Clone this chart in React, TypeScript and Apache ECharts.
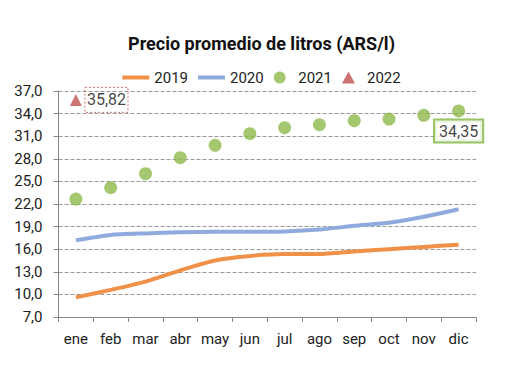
import React, { useEffect, useRef } from "react";
import * as echarts from "echarts";

const months = ["ene", "feb", "mar", "abr", "may", "jun", "jul", "ago", "sep", "oct", "nov", "dic"];
const s2019 = [9.6, 10.6, 11.7, 13.2, 14.5, 15.1, 15.35, 15.35, 15.7, 16.0, 16.3, 16.6];
const s2020 = [17.2, 17.9, 18.1, 18.25, 18.3, 18.3, 18.35, 18.6, 19.1, 19.5, 20.3, 21.3];
const s2021 = [22.66, 24.16, 26.02, 28.14, 29.79, 31.33, 32.13, 32.53, 33.06, 33.28, 33.77, 34.35];
const s2022 = [35.82];

const fmt2 = (v: number) => v.toFixed(2).replace(".", ",");
const lineIcon = "path://M0,0 L27,0 L27,4 L0,4 Z";
const triIcon = "path://M6,0 L12,11 L0,11 Z";

export default function App() {
  const ref = useRef<HTMLDivElement>(null);
  useEffect(() => {
    if (!ref.current) return;
    const chart = echarts.init(ref.current, null, { renderer: "svg" });
    const font = "Roboto";
    chart.setOption({
      animation: false,
      backgroundColor: "#ffffff",
      textStyle: { fontFamily: font },
      title: {
        text: "Precio promedio de litros (ARS/l)",
        left: "center",
        top: 29,
        textStyle: { fontFamily: font, fontSize: 18, fontWeight: "bold", color: "#111" },
      },
      legend: {
        top: 65,
        left: "center",
        itemGap: 10,
        itemWidth: 27,
        itemHeight: 12,
        textStyle: { fontFamily: font, fontSize: 15, color: "#222" },
        data: [
          { name: "2019", icon: lineIcon },
          { name: "2020", icon: lineIcon },
          { name: "2021", icon: "circle" },
          { name: "2022", icon: triIcon },
        ],
      },
      grid: { left: 58.5, right: 47, top: 91, bottom: 61, containLabel: false },
      xAxis: {
        type: "category",
        data: months,
        boundaryGap: true,
        axisLine: { lineStyle: { color: "#888", width: 1 } },
        axisTick: { show: true, length: 5, lineStyle: { color: "#888" } },
        axisLabel: { fontFamily: font, fontSize: 15, color: "#222", margin: 14, interval: 0 },
      },
      yAxis: {
        type: "value",
        min: 7,
        max: 37,
        interval: 3,
        axisLine: { show: true, lineStyle: { color: "#888", width: 1 } },
        axisTick: { show: true, length: 5, lineStyle: { color: "#888" } },
        axisLabel: {
          fontFamily: font,
          fontSize: 15,
          color: "#222",
          margin: 16,
          formatter: (v: number) => v.toFixed(1).replace(".", ","),
        },
        splitLine: { show: true, lineStyle: { color: "#999", type: [4, 2], width: 1 } },
      },
      series: [
        {
          name: "2019",
          type: "line",
          data: s2019,
          symbol: "none",
          smooth: 0.2,
          lineStyle: { color: "#F0914A", width: 4 },
          itemStyle: { color: "#F0914A" },
        },
        {
          name: "2020",
          type: "line",
          data: s2020,
          symbol: "none",
          smooth: 0.2,
          lineStyle: { color: "#8FAADC", width: 4 },
          itemStyle: { color: "#8FAADC" },
        },
        {
          name: "2021",
          type: "scatter",
          symbol: "circle",
          symbolSize: 13,
          itemStyle: { color: "#8DB94C" },
          data: s2021.map((v, i) =>
            i === s2021.length - 1
              ? {
                  value: v,
                  label: {
                    show: true,
                    position: "bottom",
                    distance: 3,
                    formatter: (p: any) => fmt2(p.value),
                    fontFamily: font,
                    fontSize: 16,
                    lineHeight: 18,
                    color: "#111",
                    backgroundColor: "#fff",
                    borderColor: "#7DB43E",
                    borderWidth: 2,
                    padding: [2, 4, 1, 4],
                  },
                }
              : v
          ),
        },
        {
          name: "2022",
          type: "scatter",
          symbol: "triangle",
          symbolSize: 12,
          itemStyle: { color: "#C0504D" },
          data: s2022,
          label: {
            show: true,
            position: "right",
            distance: 3,
            formatter: (p: any) => fmt2(p.value),
            fontFamily: font,
            fontSize: 16,
            lineHeight: 18,
            color: "#111",
            borderColor: "#C0504D",
            borderWidth: 1,
            borderType: [2, 2],
            padding: [4, 2, 3, 2],
          },
        },
      ],
    });
    return () => chart.dispose();
  }, []);
  return (
    <div
      ref={ref}
      style={{ position: "absolute", left: 0, top: 0, width: 523, height: 378 }}
    />
  );
}
